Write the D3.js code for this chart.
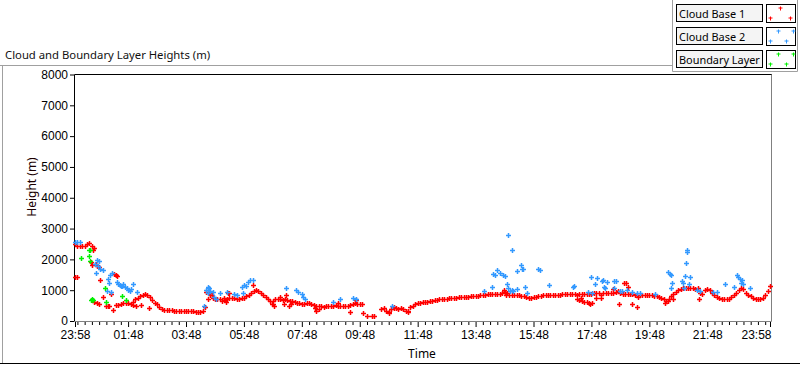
<!DOCTYPE html>
<html>
<head>
<meta charset="utf-8">
<script src="https://cdn.jsdelivr.net/npm/d3@7/dist/d3.min.js"></script>
<style>
  body { margin: 0; background: #fff; }
  svg { display: block; font-family: "Noto Sans", "Open Sans", sans-serif; }
</style>
</head>
<body>
<div id="chart-area"></div>
<script>
// minutes since 23:58, one day on the axis
var tickMinutes = [0, 110, 230, 350, 470, 590, 710, 830, 950, 1070, 1190, 1310, 1440];
var tickLabels = ["23:58", "01:48", "03:48", "05:48", "07:48", "09:48", "11:48",
                  "13:48", "15:48", "17:48", "19:48", "21:48", "23:58"];
var heightTicks = [0, 1000, 2000, 3000, 4000, 5000, 6000, 7000, 8000];

// Cloud Base 1, sampled every 5 minutes from 23:58 (one row per hour)
var cb1Step = 5;
var cb1Heights = [
  2500, 2450, 2430, 2420, 2450, 2500, 2520, 2450, 620, 600, 560, null,
  null, 500, 490, null, null, 520, 520, 540, 600, 600, 580, 550,
  620, 700, 760, 800, 850, 880, 860, 780, 680, 600, 540, 460,
  400, 370, 360, 360, 350, 340, 340, 340, 340, 340, 340, 340,
  330, 310, 300, 290, 280, 330, 450, 700, 850, 760, 720, 700,
  700, 650, 680, 700, 740, 740, 740, 730, 730, 740, 750, 820,
  860, 900, 960, 990, 960, 900, 840, 780, 720, 660, 640, 700,
  720, 700, 690, 700, 680, 660, 640, 620, 600, 580, 560, 560,
  600, 570, 540, 520, 500, 490, 480, 470, 480, 480, 490, 500,
  520, 500, 490, 480, 480, 500, 530, 550, 580, 560, 560, 560,
  null, 160, null, 160, 160, null, null, 400, 420, 340, 300, 380,
  420, 420, 400, 410, 380, 330, 320, 460, 500, 540, 580, 600,
  610, 620, 630, 640, 650, 680, 690, 700, 710, 720, 730, 740,
  750, 760, 760, 770, 770, 780, 780, 790, 800, 800, 810, 820,
  830, 850, 860, 870, 870, 880, 880, 870, 880, 900, 940, 900,
  860, 850, 840, 840, 830, 820, 800, 780, 760, 760, 770, 780,
  800, 820, 830, 840, 850, 850, 860, 860, 860, 860, 870, 870,
  870, 880, 880, 880, 860, 880, 890, 890, 880, 870, 880, 910,
  900, 920, 850, 900, 910, 910, 910, 920, 940, 960, 900, 880,
  880, 880, 870, 870, 860, 850, 850, 850, 840, 840, 840, 830,
  820, 800, 780, 760, 720, 660, 720, 820, 880, 940, 1000, 1040,
  1060, 1070, 1070, 1070, 1060, 1050, 1060, 900, 880, 1020, 1050, 1000,
  900, 840, 780, 740, 720, 700, 700, 720, 780, 860, 900, 1000,
  1060, 1040, 900, 860, 820, 760, 720, 700, 720, 760, 840, 960, 1120
];

// Cloud Base 1 detections off the main trace [minute, height]
var cb1Scatter = [
  [0,1440],[5,1420],[33,1930],[35,1820],[38,2300],[40,2360],[44,1850],[46,1790],
  [50,1760],[52,1330],[57,770],[69,490],[74,870],[78,360],[81,1530],[84,1500],
  [87,1460],[120,520],[127,500],[137,510],[153,420],[272,950],[278,920],[284,845],
  [308,760],[312,610],[316,900],[320,900],[368,1170],[408,560],[410,540],[413,490],
  [425,790],[432,550],[437,845],[443,480],[447,550],[497,420],[500,320],[505,380],
  [545,570],[570,300],[582,680],[597,270],[650,270],[660,470],[690,300],[888,990],
  [893,860],[1040,715],[1045,680],[1048,750],[1050,650],[1055,620],[1060,630],
  [1065,600],[1068,560],[1071,600],[1080,760],[1090,750],[1115,1040],[1128,550],
  [1138,1240],[1141,1230],[1145,1100],[1154,550],[1164,465],[1167,790],[1222,600],
  [1228,650],[1240,715],[1292,715]
];

// Cloud Base 2 [minute, height]
var cb2Points = [
  [0,2560],[4,2580],[10,2550],[42,1860],[43,1550],[45,1980],[48,1780],[50,1950],
  [52,1680],[57,1640],[66,980],[69,1355],[71,1225],[72,1495],[74,950],[76,1570],
  [86,1250],[90,1200],[93,1180],[95,1150],[98,1120],[100,1200],[103,1110],[107,1080],
  [110,1000],[113,960],[116,1050],[121,1200],[128,940],
  [267,490],[272,1000],[275,1110],[276,900],[277,1070],[279,960],[285,950],[288,780],
  [292,700],[300,900],[314,950],[329,880],[336,850],[345,1100],[349,900],[350,1160],
  [355,1130],[359,1280],[363,1340],[368,1330],[437,1060],[458,1000],[463,950],
  [470,880],[473,790],[477,700],[535,630],[549,700],[577,740],[582,720],[656,490],
  [848,975],[865,1115],[867,1540],[870,1500],[875,1660],[881,1550],[886,1480],
  [891,1450],[896,1190],[897,1060],[898,2795],[902,985],[905,1000],[906,2300],
  [908,985],[915,1625],[916,1030],[924,1820],[926,1700],[929,1680],[933,1115],
  [936,920],[960,1690],[963,1670],[982,1170],[1031,1115],[1033,1140],[1063,940],
  [1069,1440],[1071,900],[1078,1190],[1081,1400],[1092,1300],[1095,1320],[1096,1100],
  [1099,1060],[1103,1280],[1116,1290],[1117,1060],[1120,1290],[1130,980],[1134,960],
  [1143,1000],[1154,950],[1164,900],[1170,900],[1202,880],[1229,1600],[1233,1540],
  [1234,1060],[1235,1500],[1237,1245],[1257,1300],[1260,1230],[1261,1060],[1264,1460],
  [1265,1895],[1268,2250],[1269,2300],[1273,1190],[1275,1420],[1288,990],[1295,960],
  [1322,950],[1330,950],[1346,1190],[1365,1115],[1371,1490],[1374,1420],[1378,1350],
  [1379,1225],[1382,1330],[1385,1200],[1399,1060]
];

// Boundary Layer [minute, height]
var blPoints = [
  [12,2040],[28,2310],[29,2110],[31,2320],[32,1950],[33,680],[36,700],[38,690],
  [62,1060],[64,630],[97,810],[106,670]
];

var legendNames = ["Cloud Base 1", "Cloud Base 2", "Boundary Layer"];
var colors = ["#ff0000", "#3399ff", "#00f000"];

var width = 800, height = 365;
var svg = d3.select("#chart-area").append("svg")
    .attr("width", width)
    .attr("height", height);

var x = d3.scaleLinear().domain([0, 1440]).range([75, 770]);
var y = d3.scaleLinear().domain([0, 8000]).range([321, 74.5]);

// panel frame
svg.append("line").attr("x1", 0).attr("x2", 672).attr("y1", 65.5).attr("y2", 65.5)
    .attr("stroke", "#a0a0a0");
svg.append("line").attr("x1", 2.5).attr("x2", 2.5).attr("y1", 65).attr("y2", 363)
    .attr("stroke", "#a0a0a0");
svg.append("line").attr("x1", 0).attr("x2", 800).attr("y1", 363.5).attr("y2", 363.5)
    .attr("stroke", "#000");

// title
svg.append("text").attr("x", 5).attr("y", 59)
    .attr("font-size", 11.3).attr("fill", "#111")
    .text("Cloud and Boundary Layer Heights (m)");

// plot background + frame
svg.append("rect").attr("x", 74.5).attr("y", 74.5)
    .attr("width", 697).attr("height", 247)
    .attr("fill", "#fff");
svg.append("path")
    .attr("d", "M74.5,321.5V74.5H772")
    .attr("fill", "none").attr("stroke", "#000");
svg.append("path")
    .attr("d", "M771.5,74.5V321.5H74")
    .attr("fill", "none").attr("stroke", "#808080");

// axes
var xAxis = d3.axisBottom(x)
    .tickValues(tickMinutes)
    .tickFormat(function(d, i) { return tickLabels[i]; })
    .tickSize(5).tickSizeOuter(0);
var minorTicks = d3.range(5, 1440, 15).filter(function(m) { return tickMinutes.indexOf(m) < 0; });
var xMinor = d3.axisBottom(x).tickValues(minorTicks).tickFormat("").tickSize(3).tickSizeOuter(0);

var gx = svg.append("g").attr("transform", "translate(0,322)").call(xAxis);
var gxm = svg.append("g").attr("transform", "translate(0,322)").call(xMinor);
[gx, gxm].forEach(function(g) {
  g.select(".domain").remove();
  g.selectAll("line").attr("stroke", "#000");
});
gx.selectAll("text").attr("font-size", 12).attr("fill", "#000").attr("dy", "0.85em").attr("y", 7);
// last label sits inside the plot's right edge
gx.selectAll(".tick:last-of-type text").attr("text-anchor", "end").attr("x", 1);

var yAxis = d3.axisLeft(y).tickValues(heightTicks).tickFormat(d3.format("d"))
    .tickSize(4).tickSizeOuter(0);
var gy = svg.append("g").attr("transform", "translate(74,0)").call(yAxis);
gy.select(".domain").remove();
gy.selectAll("line").attr("stroke", "#000");
gy.selectAll("text").attr("font-size", 12).attr("fill", "#000").attr("x", -6);

// axis titles
svg.append("text")
    .attr("transform", "translate(36,187) rotate(-90)")
    .attr("text-anchor", "middle")
    .attr("font-size", 12).attr("fill", "#1a0000")
    .text("Height (m)");
svg.append("text")
    .attr("x", 422).attr("y", 358)
    .attr("text-anchor", "middle")
    .attr("font-size", 12).attr("fill", "#000")
    .text("Time");

// plus markers
function plus(d) {
  var px = Math.round(x(d[0])), py = Math.round(y(d[1]));
  return "M" + (px - 2) + "," + (py + 0.5) + "h5M" + (px + 0.5) + "," + (py - 2) + "v5";
}

var cb1Points = [];
cb1Heights.forEach(function(h, i) {
  if (h !== null) cb1Points.push([i * cb1Step, h]);
});
cb1Points = cb1Points.concat(cb1Scatter);

var series = [cb1Points, cb2Points, blPoints];
var plot = svg.append("g");
series.forEach(function(pts, k) {
  plot.append("path")
      .attr("d", pts.map(plus).join(""))
      .attr("fill", "none")
      .attr("stroke", colors[k])
      .attr("stroke-width", 1.5);
});

// legend
var lg = svg.append("g");
lg.append("path")
    .attr("d", "M672.5,0V71.5H797.5V0")
    .attr("fill", "none").attr("stroke", "#a0a0a0");
var legendPatterns = [
  [[13, 3], [3, 13], [23, 13]],
  [[11, 3], [26, 3], [3, 13], [19, 13]],
  [[11, 3], [26, 3], [3, 13], [19, 13]]
];
legendNames.forEach(function(name, i) {
  var top = 4.5 + i * 23;
  lg.append("rect").attr("x", 676.5).attr("y", top)
      .attr("width", 86).attr("height", 17)
      .attr("fill", "#f4f4f4").attr("stroke", "#000");
  lg.append("text").attr("x", 679).attr("y", top + 13)
      .attr("font-size", 10.9).attr("fill", "#000").text(name);
  lg.append("rect").attr("x", 766.5).attr("y", top)
      .attr("width", 29).attr("height", 18)
      .attr("fill", "#fff").attr("stroke", "#000");
  lg.append("path")
      .attr("d", legendPatterns[i].map(function(p) {
        var px = 767 + p[0], py = top + 0.5 + p[1];
        return "M" + (px - 1.5) + "," + py + "h4M" + (px + 0.5) + "," + (py - 1.5) + "v4";
      }).join(""))
      .attr("fill", "none").attr("stroke", colors[i]).attr("stroke-width", 1);
});
</script>
</body>
</html>
